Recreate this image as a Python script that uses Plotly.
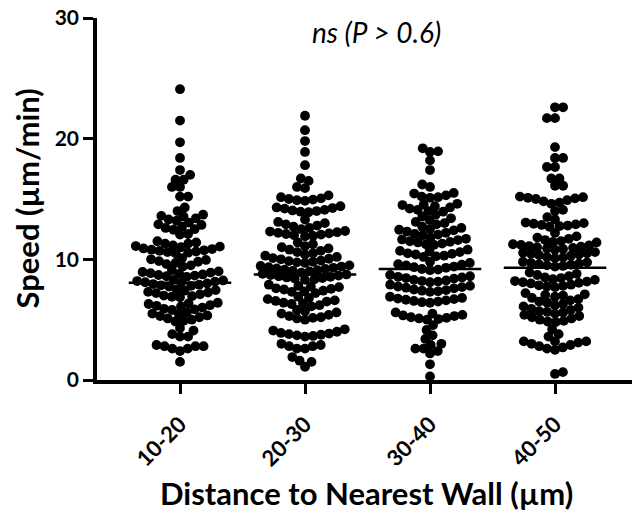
import numpy as np
import plotly.graph_objects as go

# ---- data: cell speed (µm/min) grouped by distance to the nearest wall ----
categories = ["10-20", "20-30", "30-40", "40-50"]

speed_10_20 = [
    24.1, 21.5, 19.7, 18.4, 17.4, 17.0, 16.6, 16.6, 16.0, 16.0, 15.2, 15.2, 14.3, 14.0,
    13.05, 13.2, 13.3, 13.4, 13.55, 13.6, 13.7,
    12.45, 12.5, 12.6, 12.7, 12.85, 12.9,
    12.05, 12.1,
    11.0, 11.05, 11.1, 11.15, 11.3, 11.3, 11.4, 11.5,
    10.5, 10.55, 10.6, 10.65, 10.7, 10.75, 10.8, 10.85, 10.9,
    9.4, 9.5, 9.6, 9.7, 9.8, 9.85, 9.95, 10.0, 10.1,
    8.55, 8.6, 8.65, 8.7, 8.75, 8.8, 8.85, 8.9, 8.95, 9.0, 9.1,
    7.75, 7.8, 7.85, 7.9, 7.95, 8.0, 8.05, 8.1, 8.15, 8.2, 8.25, 8.3,
    6.85, 6.9, 6.95, 7.0, 7.1, 7.2, 7.25, 7.3, 7.4, 7.45, 7.5,
    5.8, 5.85, 5.9, 6.0, 6.1, 6.15, 6.2, 6.3, 6.35, 6.4,
    4.85, 4.9, 5.0, 5.1, 5.2, 5.3, 5.35, 5.45, 5.5, 5.6,
    4.3, 4.1, 3.8, 3.6, 3.6,
    2.9, 2.8, 2.8, 2.8, 2.6, 2.6, 2.4,
    1.5,
]

speed_20_30 = [
    21.9, 20.7, 19.8, 18.9, 17.8, 16.5, 16.7, 15.9, 16.0,
    14.85, 14.9, 14.95, 15.0, 15.05, 15.15, 15.3,
    13.9, 13.95, 14.0, 14.05, 14.1, 14.2, 14.25, 14.3, 14.4,
    12.5, 12.6, 12.7, 12.8, 12.9, 13.0, 13.1, 13.3,
    11.9, 11.95, 12.0, 12.05, 12.1, 12.15, 12.2, 12.25, 12.3, 12.35,
    10.5, 10.6, 10.7, 10.8, 10.9, 11.0, 11.1, 11.25, 11.4,
    9.7, 9.75, 9.8, 9.85, 9.9, 10.0, 10.05, 10.1, 10.2, 10.3, 10.4,
    9.0, 9.05, 9.1, 9.15, 9.2, 9.25, 9.3, 9.35, 9.4, 9.45, 9.5,
    8.3, 8.35, 8.4, 8.45, 8.5, 8.55, 8.6, 8.65, 8.7, 8.75, 8.8, 8.9,
    7.2, 7.3, 7.35, 7.4, 7.5, 7.55, 7.6, 7.7, 7.75, 7.8, 7.9,
    6.1, 6.2, 6.3, 6.35, 6.4, 6.5, 6.55, 6.6, 6.7, 6.8, 6.9,
    5.0, 5.1, 5.15, 5.2, 5.3, 5.4, 5.5, 5.6, 5.7, 5.8,
    3.6, 3.65, 3.7, 3.75, 3.8, 3.85, 3.9, 4.0, 4.1, 4.2,
    3.0, 2.9, 2.8, 2.6, 2.6, 2.8,
    1.9, 1.6, 1.5, 1.1,
]

speed_30_40 = [
    19.2, 18.95, 18.9, 18.2, 17.4, 16.2, 16.0,
    15.1, 15.15, 15.2, 15.3, 15.45, 15.5,
    13.95, 14.0, 14.1, 14.2, 14.3, 14.4, 14.5, 14.55, 14.6,
    12.9, 13.0, 13.1, 13.25, 13.4, 13.55, 13.7,
    12.0, 12.05, 12.1, 12.2, 12.3, 12.4, 12.45, 12.5, 12.6, 12.7,
    11.2, 11.25, 11.3, 11.4, 11.45, 11.5, 11.6, 11.65, 11.7, 11.8,
    10.2, 10.25, 10.3, 10.4, 10.45, 10.5, 10.6, 10.65, 10.7, 10.8,
    9.1, 9.15, 9.2, 9.3, 9.35, 9.4, 9.5, 9.55, 9.6, 9.7, 9.8,
    8.1, 8.15, 8.2, 8.25, 8.3, 8.4, 8.45, 8.5, 8.55, 8.6, 8.7,
    7.3, 7.35, 7.4, 7.45, 7.5, 7.6, 7.65, 7.7, 7.75, 7.8, 7.9,
    6.4, 6.45, 6.5, 6.55, 6.6, 6.65, 6.7, 6.75, 6.8, 6.9,
    5.0, 5.05, 5.1, 5.15, 5.2, 5.3, 5.35, 5.4, 5.5, 5.6,
    4.55, 4.15, 3.7, 3.4, 3.0, 2.9, 2.6, 2.6, 2.4, 2.2, 1.3, 0.3,
]

speed_40_50 = [
    22.6, 22.6, 21.7, 21.7, 19.3, 18.4, 18.4, 17.65, 17.65, 16.7, 16.7, 16.1, 16.1,
    14.6, 14.7, 14.8, 14.9, 15.0, 15.05, 15.1, 15.15, 15.2,
    14.1, 14.0, 13.5, 13.3,
    12.7, 12.75, 12.8, 12.85, 12.9, 12.95, 13.0, 13.05,
    12.2,
    11.4, 11.45, 11.5, 11.6, 11.7, 11.8, 11.9,
    10.8, 10.85, 10.9, 10.95, 11.0, 11.05, 11.1, 11.15, 11.2, 11.25,
    10.1, 10.15, 10.2, 10.3, 10.35, 10.4, 10.45, 10.5, 10.55, 10.6,
    9.4, 9.45, 9.5, 9.55, 9.6, 9.65, 9.7, 9.75, 9.8,
    8.3, 8.35, 8.45, 8.5, 8.6, 8.7, 8.8, 8.9,
    7.7, 7.75, 7.8, 7.85, 7.9, 8.0, 8.05, 8.1, 8.15, 8.2,
    6.5, 6.6, 6.7, 6.8, 6.9, 7.0, 7.05, 7.1, 7.2,
    5.6, 5.65, 5.7, 5.8, 5.9, 6.0, 6.1, 6.2, 6.3, 6.4,
    4.8, 4.85, 4.9, 5.0, 5.1, 5.2, 5.3, 5.4, 5.5,
    4.2, 3.8, 3.6,
    2.5, 2.6, 2.7, 2.8, 2.9, 3.0, 3.1, 3.2, 3.2, 3.2,
    0.5, 0.65,
]

groups = [speed_10_20, speed_20_30, speed_30_40, speed_40_50]
medians = [8.05, 8.75, 9.2, 9.3]

y_ticks = [0, 10, 20, 30]
y_title = "Speed (µm/min)"
x_title = "Distance to Nearest Wall (µm)"
stat_note = "ns (P > 0.6)"

# ---- geometry ----
W, H = 636, 513
M_L, M_R, M_T, M_B = 97, 4, 18, 133
PLOT_W = W - M_L - M_R
PLOT_H = H - M_T - M_B
X_RANGE = [-0.664, -0.664 + PLOT_W / 125.0]
Y_RANGE = [0, 30]
PX_PER_X = PLOT_W / (X_RANGE[1] - X_RANGE[0])
PX_PER_Y = PLOT_H / (Y_RANGE[1] - Y_RANGE[0])

DOT = 9.8          # marker diameter, px
MIN_DIST = 8.1     # centre spacing used by the swarm layout, px
HALF_BAR = 0.41    # half length of the median bar, category units


def swarm_offsets(values, min_dist):
    """Beeswarm: place points (lowest first) as close to the centre as possible."""
    y = np.asarray(values, float) * PX_PER_Y
    order = np.argsort(y, kind="stable")
    xs = np.zeros(len(y))
    placed = []
    side = 1
    for i in order:
        yi = y[i]
        near = [(px, py) for px, py in placed if abs(py - yi) < min_dist]
        cands = [0.0]
        for px, py in near:
            dx = np.sqrt(max(min_dist ** 2 - (py - yi) ** 2, 0.0))
            cands += [px + dx, px - dx]
        ok = [c for c in cands
              if all((c - px) ** 2 + (yi - py) ** 2 >= min_dist ** 2 - 1e-6 for px, py in near)]
        best = min(ok, key=lambda c: (round(abs(c), 4), -side * c))
        if abs(best) > 1e-9:
            side = -side
        xs[i] = best
        placed.append((best, yi))
    return xs / PX_PER_X


fig = go.Figure()

for k, vals in enumerate(groups):
    offs = swarm_offsets(vals, MIN_DIST)
    fig.add_trace(go.Scatter(
        x=k + offs, y=vals, mode="markers",
        marker=dict(size=DOT, color="black", line=dict(width=0)),
        hoverinfo="y", showlegend=False,
    ))

for k, m in enumerate(medians):
    fig.add_trace(go.Scatter(
        x=[k - HALF_BAR, k + HALF_BAR], y=[m, m], mode="lines",
        line=dict(color="black", width=2.5), hoverinfo="skip", showlegend=False,
    ))

BOLD = dict(family="Lato, 'Open Sans', sans-serif", color="black", weight="bold")

fig.update_layout(
    width=W, height=H,
    margin=dict(l=M_L, r=M_R, t=M_T, b=M_B, pad=0),
    paper_bgcolor="white", plot_bgcolor="white",
    xaxis=dict(
        range=X_RANGE, showgrid=False, zeroline=False,
        showline=True, linewidth=3.5, linecolor="black",
        tickmode="array", tickvals=list(range(len(categories))), ticktext=categories,
        ticks="outside", ticklen=10, tickwidth=3, tickcolor="black",
        tickangle=-45, tickfont=dict(size=22, **BOLD), ticklabelstandoff=9,
    ),
    yaxis=dict(
        range=Y_RANGE, showgrid=False, zeroline=False,
        showline=True, linewidth=3.5, linecolor="black",
        tickmode="array", tickvals=y_ticks,
        ticks="outside", ticklen=10, tickwidth=3, tickcolor="black",
        tickfont=dict(size=21, **BOLD),
    ),
    annotations=[
        dict(text=y_title, xref="paper", yref="paper",
             x=(26.5 - M_L) / PLOT_W, y=0.5, xanchor="center", yanchor="middle",
             textangle=-90, showarrow=False, font=dict(size=31, **BOLD)),
        dict(text=x_title, xref="paper", yref="paper",
             x=(366 - M_L) / PLOT_W, y=(H - M_B - 493) / PLOT_H,
             xanchor="center", yanchor="middle",
             showarrow=False, font=dict(size=31, **BOLD)),
        dict(text=stat_note, xref="paper", yref="paper",
             x=(376 - M_L) / PLOT_W, y=(H - M_B - 32) / PLOT_H,
             xanchor="center", yanchor="middle", showarrow=False,
             font=dict(size=28, family="Lato, 'Open Sans', sans-serif",
                       color="black", style="italic")),
    ],
)

fig.write_html("out.html")
